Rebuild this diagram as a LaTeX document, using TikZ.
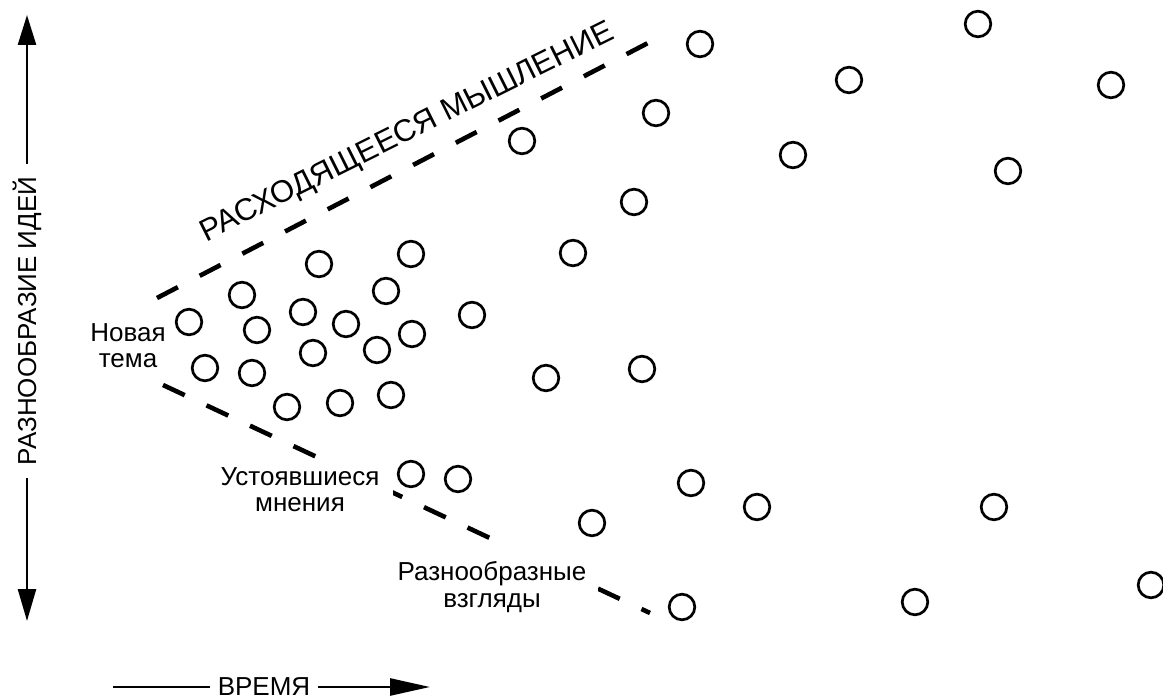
\documentclass[tikz,border=0pt]{standalone}
\usepackage{fontspec}
\setmainfont{Liberation Sans}
\usetikzlibrary{arrows.meta}

\begin{document}
\begin{tikzpicture}[x=1pt,y=-1pt,
  idea/.style={circle,draw,line width=2.7pt,minimum size=25.6pt,inner sep=0pt},
  bound/.style={line width=4.6pt,dash pattern=on 23.5pt off 24.6pt},
  axisline/.style={line width=2.6pt},
  axislabel/.style={font=\fontsize{26}{30}\selectfont,fill=white,inner ysep=2pt},
  note/.style={font=\fontsize{26}{26.5}\selectfont,align=center,inner sep=0pt},
]
\useasboundingbox[fill=white] (0,0) rectangle (1163,700);

% axes
\coordinate (vtop) at (27,15);
\coordinate (vbot) at (27,621);
\draw[axisline,{Triangle[length=30pt,width=18pt]}-{Triangle[length=32pt,width=18pt]}] (vtop) -- (vbot);
\node[axislabel,rotate=90,inner xsep=12.5pt] (vlabel) at (27,321) {РАЗНООБРАЗИЕ ИДЕЙ};

\coordinate (hstart) at (113,687);
\coordinate (hend) at (430,687);
\draw[axisline,-{Triangle[length=40pt,width=17pt]}] (hstart) -- (hend);
\node[axislabel,inner xsep=8pt] (hlabel) at (264,687) {ВРЕМЯ};

% boundaries of the idea cone
\coordinate (u0) at (157,298);
\coordinate (u1) at (648,43);
\draw[bound] (u0) -- (u1);
\coordinate (l0) at (163,385);
\coordinate (l1) at (650,613);
\draw[bound,dash pattern=on 24pt off 24.03pt] (l0) -- (l1);

\node[font=\fontsize{31}{35}\selectfont,anchor=base,rotate=26.5] (diverging) at (411,140) {РАСХОДЯЩЕЕСЯ МЫШЛЕНИЕ};

% labels (base anchor sits on the last line)
\node[note,anchor=base] (topic) at (128,368) {Новая\\тема};
\node[note,anchor=base,fill=white,inner xsep=14pt,inner ysep=4pt] (settled) at (300,512) {Устоявшиеся\\мнения};
\node[note,anchor=base,fill=white,inner xsep=12pt,inner ysep=17pt] (diverse) at (492,607) {Разнообразные\\взгляды};

% ideas
\foreach \px/\py [count=\i] in {
  700/44, 978/24, 849/80, 1111/85, 656/113, 522/141, 793/155, 1008/171,
  634/202, 573/253, 411/254, 319/264, 242/295, 386/291, 303/312, 472/315,
  189/322, 257/330, 346/324, 412/334, 313/353, 377/350, 205/368, 252/373,
  546/378, 642/369, 287/407, 340/403, 391/395, 411/474, 458/479, 691/483,
  757/507, 994/507, 592/523, 682/607, 915/602, 1151/585}
  \node[idea] (i\i) at (\px,\py) {};
\end{tikzpicture}
\end{document}
